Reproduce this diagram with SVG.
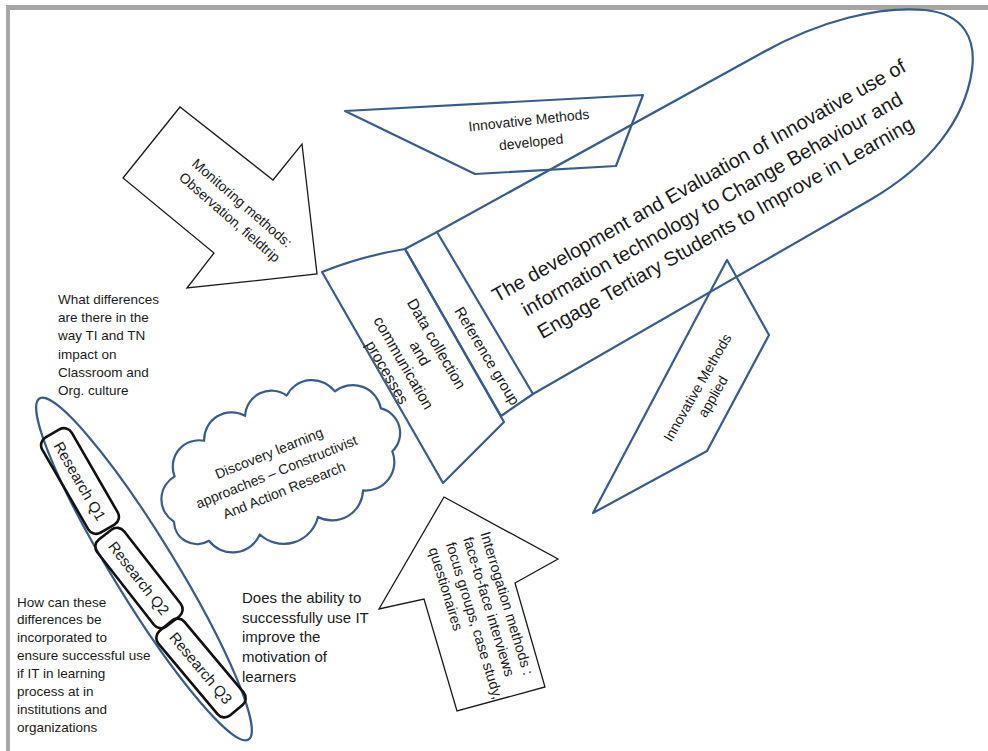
<svg xmlns="http://www.w3.org/2000/svg" width="988" height="751" viewBox="0 0 988 751">
  <style>
    .bl{fill:none;stroke:#385D8A;stroke-width:2.2;stroke-linejoin:round}
    .bk{fill:#fff;stroke:#1a1a1a;stroke-width:1.3}
    .rq{fill:none;stroke:#111;stroke-width:2.6}
    text{font-family:"Liberation Sans",Arial,sans-serif;fill:#1a1a1a}
    .c{text-anchor:middle}
  </style>
  <rect width="988" height="751" fill="#fff"/>
  <!-- page edge -->
  <rect x="6" y="5" width="982" height="5" fill="#a6a6a6"/>
  <rect x="6" y="5" width="4" height="746" fill="#a6a6a6"/>

  <g id="monitoring-arrow">
    <polygon class="bk" points="180,107 123,178 214,253 187,288 317,274 302,144 273,180"/>
    <g transform="translate(236,210) rotate(41)" font-size="14">
      <text class="c" y="-4.5">Monitoring methods:</text>
      <text class="c" y="14.5">Observation, fieldtrip</text>
    </g>
  </g>

  <g id="methods-developed">
    <polygon class="bl" points="345,111 643,95 616,166 475,174"/>
    <g transform="translate(530,131) rotate(-6)" font-size="14">
      <text class="c" y="-6">Innovative Methods</text>
      <text class="c" y="16">developed</text>
    </g>
  </g>

  <g id="rocket-body">
    <path class="bl" d="M437,232 L760,54 C820,20 880,6 925,10 C965,14 976,40 972,70 C965,120 930,165 870,200 L533,394"/>
    <g transform="translate(712,204) rotate(-29.5)" font-size="20">
      <text class="c" y="-20">The development and Evaluation of Innovative use of</text>
      <text class="c" y="7">information technology to Change Behaviour and</text>
      <text class="c" y="34">Engage Tertiary Students to Improve in Learning</text>
    </g>
  </g>

  <g id="data-collection">
    <path class="bl" d="M322,272 Q362,256 405,249 L504,422 L443,483 Z"/>
    <g transform="translate(412,358) rotate(60)" font-size="15.5">
      <text class="c" y="-23">Data collection</text>
      <text class="c" y="-4">and</text>
      <text class="c" y="15">communication</text>
      <text class="c" y="34">processes</text>
    </g>
  </g>

  <g id="reference-group">
    <path class="bl" d="M405,249 L437,232 L533,394 L501,416 Z"/>
    <text class="c" font-size="15" transform="translate(487,356) rotate(59)" y="5">Reference group</text>
  </g>

  <g id="methods-applied">
    <polygon class="bl" points="727,260 769,335 707,451 593,513"/>
    <g transform="translate(705,392) rotate(-60)" font-size="14">
      <text class="c" y="-4">Innovative Methods</text>
      <text class="c" y="14">applied</text>
    </g>
  </g>

  <g id="discovery-cloud">
    <g transform="translate(280,467) rotate(-22)">
      <path class="bl" vector-effect="non-scaling-stroke" transform="scale(1.1)" d="M-108,10 A24,24 0 0 1 -92,-28 A24,24 0 0 1 -55,-48 A25,25 0 0 1 -12,-55 A24,24 0 0 1 30,-58 A26,26 0 0 1 72,-45 A26,26 0 0 1 105,-15 A23,23 0 0 1 100,25 A26,26 0 0 1 62,48 A28,28 0 0 1 15,55 A32,32 0 0 1 -40,50 A27,27 0 0 1 -85,38 A21,21 0 0 1 -108,10 Z"/>
      <g font-size="14">
        <text class="c" x="-5" y="-12">Discovery learning</text>
        <text class="c" x="-5" y="8">approaches – Constructivist</text>
        <text class="c" x="-5" y="28">And Action Research</text>
      </g>
    </g>
  </g>

  <g id="interrogation-arrow">
    <polygon class="bk" points="444,497 558,559 515,583 545,687 457,711 424,599 379,609"/>
    <g transform="translate(485,532) rotate(73)" font-size="14.5">
      <text y="5">Interrogation methods :</text>
      <text y="23">face-to-face interviews</text>
      <text y="41">focus groups, case study,</text>
      <text y="59">questionaires</text>
    </g>
  </g>

  <g id="research-questions">
    <ellipse class="bl" cx="144" cy="569" rx="200" ry="31" transform="rotate(58.5 144 569)"/>
    <g id="rq1" transform="translate(80,481) rotate(60)">
      <rect class="rq" x="-55" y="-17" width="110" height="34" rx="9"/>
      <text class="c" font-size="15" y="5.5">Research Q1</text>
    </g>
    <g id="rq2" transform="translate(139,578) rotate(52)">
      <rect class="rq" x="-55" y="-17" width="110" height="34" rx="9"/>
      <text class="c" font-size="15" y="5.5">Research Q2</text>
    </g>
    <g id="rq3" transform="translate(201,668) rotate(50)">
      <rect class="rq" x="-55" y="-17" width="110" height="34" rx="9"/>
      <text class="c" font-size="15" y="5.5">Research Q3</text>
    </g>
  </g>

  <g id="question-notes" font-size="13.5">
    <g id="note-differences">
      <text x="58" y="303.5">What differences</text>
      <text x="58" y="322">are there in the</text>
      <text x="58" y="340">way TI and TN</text>
      <text x="58" y="358.5">impact on</text>
      <text x="58" y="377">Classroom and</text>
      <text x="58" y="395">Org. culture</text>
    </g>
    <g id="note-incorporate">
      <text x="17" y="606.5">How can these</text>
      <text x="17" y="624">differences be</text>
      <text x="17" y="642">incorporated to</text>
      <text x="17" y="660">ensure successful use</text>
      <text x="17" y="678">if IT in learning</text>
      <text x="17" y="696">process at in</text>
      <text x="17" y="714">institutions and</text>
      <text x="17" y="732">organizations</text>
    </g>
    <g id="note-motivation" font-size="15">
      <text x="242" y="603">Does the ability to</text>
      <text x="242" y="623">successfully use IT</text>
      <text x="242" y="642">improve the</text>
      <text x="242" y="662">motivation of</text>
      <text x="242" y="682">learners</text>
    </g>
  </g>
</svg>
